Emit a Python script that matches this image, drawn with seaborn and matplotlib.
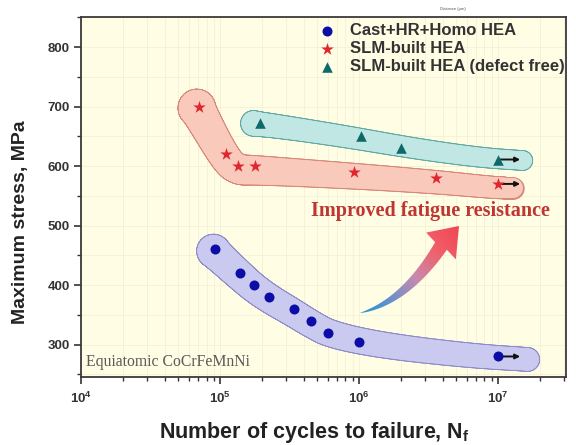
import numpy as np
import pandas as pd
import matplotlib
matplotlib.use("Agg")
import matplotlib.pyplot as plt
import seaborn as sns
from matplotlib.collections import LineCollection
from matplotlib.patches import Polygon
from matplotlib.colors import LinearSegmentedColormap
from matplotlib.ticker import LogLocator, MultipleLocator, NullFormatter

# ---- data -------------------------------------------------------------
series_names = ["Cast+HR+Homo HEA", "SLM-built HEA", "SLM-built HEA (defect free)"]

cast_cycles = [9.2e4, 1.4e5, 1.75e5, 2.25e5, 3.4e5, 4.5e5, 6.0e5, 1.0e6, 1.0e7]
cast_stress = [460, 420, 400, 380, 360, 340, 320, 305, 280]

slm_cycles = [7.1e4, 1.1e5, 1.35e5, 1.8e5, 9.2e5, 3.6e6, 1.0e7]
slm_stress = [700, 620, 600, 600, 590, 580, 570]

slm_df_cycles = [1.95e5, 1.03e6, 2.0e6, 1.0e7]
slm_df_stress = [672, 651, 631, 611]

runout_cycles = 1.0e7          # specimens that did not fail

x_ticks = [1e4, 1e5, 1e6, 1e7]
x_tick_labels = [r"$10^{4}$", r"$10^{5}$", r"$10^{6}$", r"$10^{7}$"]
y_ticks = [300, 400, 500, 600, 700, 800]

# ---- style ------------------------------------------------------------
sns.set_theme(style="ticks")
plt.rcParams["font.family"] = ["Liberation Sans", "DejaVu Sans"]
plt.rcParams["mathtext.fontset"] = "custom"
plt.rcParams["mathtext.rm"] = "Liberation Sans"
plt.rcParams["mathtext.bf"] = "Liberation Sans:bold"
plt.rcParams["mathtext.default"] = "bf"

marker_colors = ["#0C0CA6", "#E0262E", "#0E6A6A"]
marker_shapes = ["o", "*", "^"]
marker_sizes = [52, 90, 58]
band_fill = ["#CACAF0", "#F9CABB", "#C0E7E3"]
band_edge = ["#8E8CC9", "#D8897A", "#62ABA5"]
# half widths (px) at start / end, extension (px) at start / end,
# shift of the band centre (px, screen x right / y down)
band_geom = [(16, 11, 2, 30, 0, 3), (18, 10, 3, 16, -1, 4), (12, 9, 7, 25, 0, 1)]
band_passes = [1, 0, 1]

fig = plt.figure(figsize=(5.76, 4.45), dpi=100)
ax = fig.add_axes([81 / 576, 1 - 376.7 / 445, 485 / 576, 359.4 / 445])
ax.set_facecolor("#FFFDE4")
ax.set_xscale("log")
ax.set_xlim(1e4, 10 ** 7.49)
ax.set_ylim(246, 850)

ax.grid(True, which="both", color="#F3F0D8", lw=0.6, zorder=0)
ax.set_axisbelow(True)

all_cycles = [cast_cycles, slm_cycles, slm_df_cycles]
all_stress = [cast_stress, slm_stress, slm_df_stress]


def chaikin(pts, n=4):
    for _ in range(n):
        q = 0.75 * pts[:-1] + 0.25 * pts[1:]
        r = 0.25 * pts[:-1] + 0.75 * pts[1:]
        new = np.empty((2 * len(q), 2))
        new[0::2] = q
        new[1::2] = r
        pts = np.vstack([pts[0], new, pts[-1]])
    return pts


def smooth_points(pts, passes=1):
    # light 3-point averaging of interior points before corner cutting
    for _ in range(passes):
        inner = 0.25 * pts[:-2] + 0.5 * pts[1:-1] + 0.25 * pts[2:]
        pts = np.vstack([pts[0], inner, pts[-1]])
    return pts


def draw_band(cycles, stress, geom, fill, edge, z, passes):
    hw0, hw1, e0, e1, sx, sy = geom
    px = ax.transData.transform(np.column_stack([cycles, stress]))
    px = px + np.array([sx, -sy])
    d0 = px[0] - px[1]
    d0 = d0 / np.hypot(*d0)
    start = px[0] + d0 * e0
    end = px[-1] + np.array([e1, 0.0])
    pts = np.vstack([start, px, end])
    pts = smooth_points(pts, passes)
    pts = chaikin(pts, 5)
    seg_len = np.hypot(*np.diff(pts, axis=0).T)
    t = np.concatenate([[0], np.cumsum(seg_len)]) / seg_len.sum()
    tm = 0.5 * (t[:-1] + t[1:])
    hw = hw0 + (hw1 - hw0) * np.sqrt(tm)
    data_pts = ax.transData.inverted().transform(pts)
    segs = np.stack([data_pts[:-1], data_pts[1:]], axis=1)
    lw_fill = 2 * hw * 0.72
    ax.add_collection(LineCollection(segs, linewidths=lw_fill + 1.8, colors=edge,
                                     capstyle="round", joinstyle="round", zorder=z))
    ax.add_collection(LineCollection(segs, linewidths=lw_fill, colors=fill,
                                     capstyle="round", joinstyle="round", zorder=z + 0.1))


for i in [1, 2, 0]:
    draw_band(all_cycles[i], all_stress[i], band_geom[i], band_fill[i], band_edge[i],
              1 + 0.2 * i, band_passes[i])

# run-out arrows
for cyc, st in zip(all_cycles, all_stress):
    for c, s in zip(cyc, st):
        if c == runout_cycles:
            ax.annotate("", xy=(c * 10 ** 0.16, s), xytext=(c, s),
                        arrowprops=dict(arrowstyle="-|>", color="#111111", lw=1.4,
                                        mutation_scale=7, shrinkA=0, shrinkB=0),
                        zorder=3)

# markers
for name, cyc, st, col, mk, sz in zip(series_names, all_cycles, all_stress,
                                      marker_colors, marker_shapes, marker_sizes):
    df = pd.DataFrame({"cycles": cyc, "stress": st})
    sns.scatterplot(data=df, x="cycles", y="stress", color=col, marker=mk, s=sz,
                    linewidth=0, ax=ax, zorder=4, label=name, legend=False)

# curved gradient arrow
def to_disp(p):
    return np.array([p[0], 445 - p[1]])

P0, P1, P2 = to_disp((360, 313)), to_disp((405, 302)), to_disp((441, 246))
tip = to_disp((459, 226))
u = np.linspace(0, 1, 80)[:, None]
B = (1 - u) ** 2 * P0 + 2 * (1 - u) * u * P1 + u ** 2 * P2
dB = 2 * (1 - u) * (P1 - P0) + 2 * u * (P2 - P1)
dB = dB / np.hypot(dB[:, 0], dB[:, 1])[:, None]
nrm = np.column_stack([-dB[:, 1], dB[:, 0]])
w = 7.0 * u ** 0.8
upper = B + nrm * w
lower = B - nrm * w
hd = (tip - P2) / np.hypot(*(tip - P2))
hn = np.array([-hd[1], hd[0]])
wing_up = P2 + hn * 20
wing_lo = P2 - hn * 20
verts_disp = np.vstack([lower, wing_lo, tip, wing_up, upper[::-1]])
inv = ax.transAxes.inverted()
verts_ax = inv.transform(verts_disp)
clip = Polygon(verts_ax, closed=True, transform=ax.transAxes)

xa0, ya0 = verts_ax.min(axis=0)
xa1, ya1 = verts_ax.max(axis=0)
gx, gy = np.meshgrid(np.linspace(xa0, xa1, 200), np.linspace(ya0, ya1, 200))
gdisp = ax.transAxes.transform(np.column_stack([gx.ravel(), gy.ravel()]))
axis_dir = tip - P0
proj = ((gdisp - P0) @ axis_dir) / (axis_dir @ axis_dir)
grad = np.clip(proj, 0, 1).reshape(gx.shape)
cmap = LinearSegmentedColormap.from_list(
    "arrow", ["#1B9AD8", "#6E90CC", "#C98AAE", "#F0606A", "#F04654"])
im = ax.imshow(grad, extent=[xa0, xa1, ya0, ya1], transform=ax.transAxes,
               cmap=cmap, origin="lower", aspect="auto", zorder=3,
               interpolation="bilinear")
im.set_clip_path(clip)

ax.set_xlim(1e4, 10 ** 7.49)
ax.set_ylim(246, 850)

# annotations
ax.text((430 - 81) / 485, (376.7 - 211) / 359.4, "Improved fatigue resistance",
        transform=ax.transAxes, ha="center", va="center",
        family=["Liberation Serif", "DejaVu Serif"], fontweight="bold",
        fontsize=14.5, color="#BE3532", zorder=5)
ax.text(5 / 485, (376.7 - 362) / 359.4, "Equiatomic CoCrFeMnNi",
        transform=ax.transAxes, ha="left", va="center",
        family=["Liberation Serif", "DejaVu Serif"], fontsize=11.3,
        color="#5A5A5A", zorder=5)

fig.text(453 / 576, 1 - 9 / 445, "Distance (μm)", fontsize=3, color="#555555",
         ha="center", va="center")

# axes styling
ax.set_xticks(x_ticks)
ax.set_xticklabels(x_tick_labels)
ax.xaxis.set_minor_locator(LogLocator(base=10, subs=np.arange(2, 10)))
ax.xaxis.set_minor_formatter(NullFormatter())
ax.set_yticks(y_ticks)
ax.yaxis.set_minor_locator(MultipleLocator(50))
ax.tick_params(axis="both", which="major", direction="out", length=5, width=1.2,
               color="#333333", labelsize=9.5, labelcolor="#333333", pad=3)
ax.tick_params(axis="x", which="major", pad=5)
ax.tick_params(axis="both", which="minor", direction="out", length=3, width=1.0,
               color="#333333")
for lab in ax.get_yticklabels():
    lab.set_fontweight("bold")
for sp in ax.spines.values():
    sp.set_visible(True)
    sp.set_color("#3A3A3A")
    sp.set_linewidth(1.3)

ax.set_xlabel(r"Number of cycles to failure, N$_\mathbf{f}$", fontsize=15.5,
              fontweight="bold", color="#222222")
ax.set_ylabel("Maximum stress, MPa", fontsize=14, fontweight="bold", color="#222222")
ax.xaxis.set_label_coords((314 - 81) / 485, -0.12)
ax.yaxis.set_label_coords((29 - 81) / 485, (376.7 - 222) / 359.4)

handles, labels = ax.get_legend_handles_labels()
ax.legend(handles, labels, loc="upper left",
          bbox_to_anchor=((320 - 81) / 485, (376.7 - 23) / 359.4),
          frameon=False, borderpad=0, borderaxespad=0, handlelength=0.84,
          handletextpad=0.96, labelspacing=0.18,
          prop={"weight": "bold", "size": 12}, labelcolor="#333333")

fig.savefig("out.png", dpi=100)
